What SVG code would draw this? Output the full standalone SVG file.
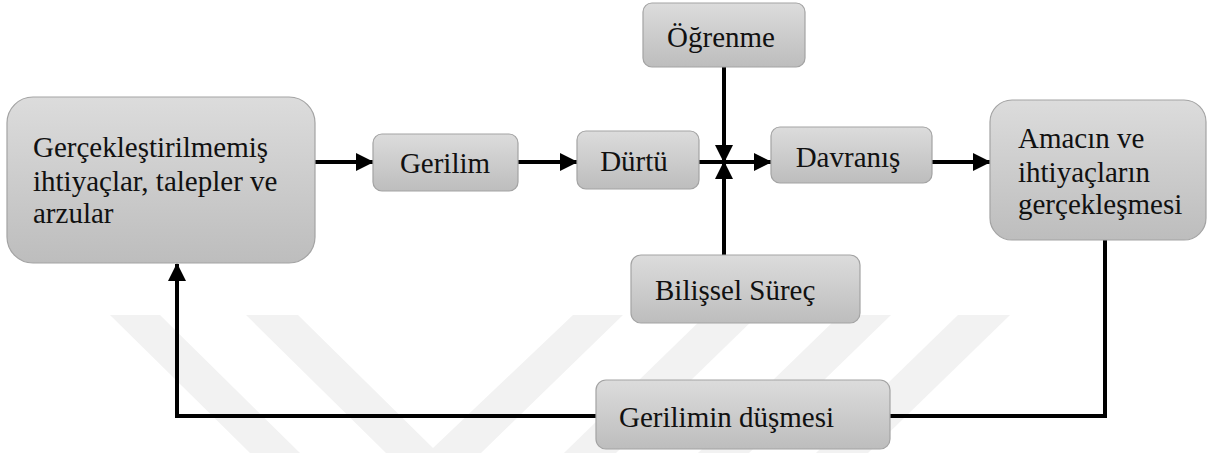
<svg xmlns="http://www.w3.org/2000/svg" width="1208" height="453" viewBox="0 0 1208 453">
  <style>
    .box { fill: url(#g); stroke: #a3a3a3; stroke-width: 1.2; }
    .lbl { font-family: 'Liberation Serif', 'Times New Roman', 'DejaVu Serif', serif; font-size: 29px; fill: #111; }
    .wire { fill: none; stroke: #000; stroke-width: 4; }
    .wm { fill: #f2f2f2; }
  </style>
  <defs>
    <linearGradient id="g" x1="0" y1="0" x2="0" y2="1">
      <stop offset="0" stop-color="#dcdcdc"/>
      <stop offset="1" stop-color="#bdbdbd"/>
    </linearGradient>
    <marker id="ah" viewBox="0 0 18 18" refX="17" refY="9" markerWidth="18" markerHeight="18" markerUnits="userSpaceOnUse" orient="auto">
      <path d="M0,0 L18,9 L0,18 Z" fill="#000"/>
    </marker>
  </defs>

  <g id="watermark">
    <polygon class="wm" points="110,315 160,315 300,453 250,453"/>
    <polygon class="wm" points="246,315 298,315 433,448 573,315 623,315 481,453 386,453"/>
    <polygon class="wm" points="706,315 758,315 616,453 564,453"/>
    <polygon class="wm" points="840,315 891,315 749,453 698,453"/>
    <polygon class="wm" points="958,315 1010,315 868,453 816,453"/>
  </g>

  <g id="connectors">
    <line class="wire" x1="315" y1="162" x2="373" y2="162" marker-end="url(#ah)"/>
    <line class="wire" x1="518" y1="162" x2="577" y2="162" marker-end="url(#ah)"/>
    <line class="wire" x1="699" y1="162" x2="771" y2="162" marker-end="url(#ah)"/>
    <line class="wire" x1="724" y1="67" x2="724" y2="162" marker-end="url(#ah)"/>
    <line class="wire" x1="724" y1="255" x2="724" y2="162" marker-end="url(#ah)"/>
    <line class="wire" x1="932" y1="162" x2="990" y2="162" marker-end="url(#ah)"/>
    <path class="wire" d="M1105,240 V416 H177 V264" marker-end="url(#ah)"/>
  </g>

  <g id="node-ihtiyaclar">
    <rect class="box" x="7" y="97" width="308" height="166" rx="26"/>
    <text class="lbl" font-family="Liberation Serif, serif" x="33" y="157">Gerçekleştirilmemiş</text>
    <text class="lbl" font-family="Liberation Serif, serif" x="33" y="191">ihtiyaçlar, talepler ve</text>
    <text class="lbl" font-family="Liberation Serif, serif" x="33" y="223">arzular</text>
  </g>

  <g id="node-gerilim">
    <rect class="box" x="373" y="134" width="145" height="57" rx="9"/>
    <text class="lbl" x="445" y="173" text-anchor="middle">Gerilim</text>
  </g>

  <g id="node-durtu">
    <rect class="box" x="577" y="131" width="122" height="58" rx="9"/>
    <text class="lbl" x="634" y="171" text-anchor="middle">Dürtü</text>
  </g>

  <g id="node-ogrenme">
    <rect class="box" x="643" y="3" width="162" height="64" rx="9"/>
    <text class="lbl" x="721" y="47" text-anchor="middle">Öğrenme</text>
  </g>

  <g id="node-bilissel">
    <rect class="box" x="631" y="255" width="229" height="68" rx="10"/>
    <text class="lbl" x="655" y="300">Bilişsel Süreç</text>
  </g>

  <g id="node-davranis">
    <rect class="box" x="771" y="127" width="161" height="56" rx="9"/>
    <text class="lbl" x="848" y="167" text-anchor="middle">Davranış</text>
  </g>

  <g id="node-amac">
    <rect class="box" x="990" y="100" width="216" height="140" rx="22"/>
    <text class="lbl" x="1018" y="148">Amacın ve</text>
    <text class="lbl" x="1018" y="182">ihtiyaçların</text>
    <text class="lbl" x="1018" y="214">gerçekleşmesi</text>
  </g>

  <g id="node-dusme">
    <rect class="box" x="596" y="380" width="294" height="69" rx="10"/>
    <text class="lbl" x="619" y="427">Gerilimin düşmesi</text>
  </g>
</svg>
